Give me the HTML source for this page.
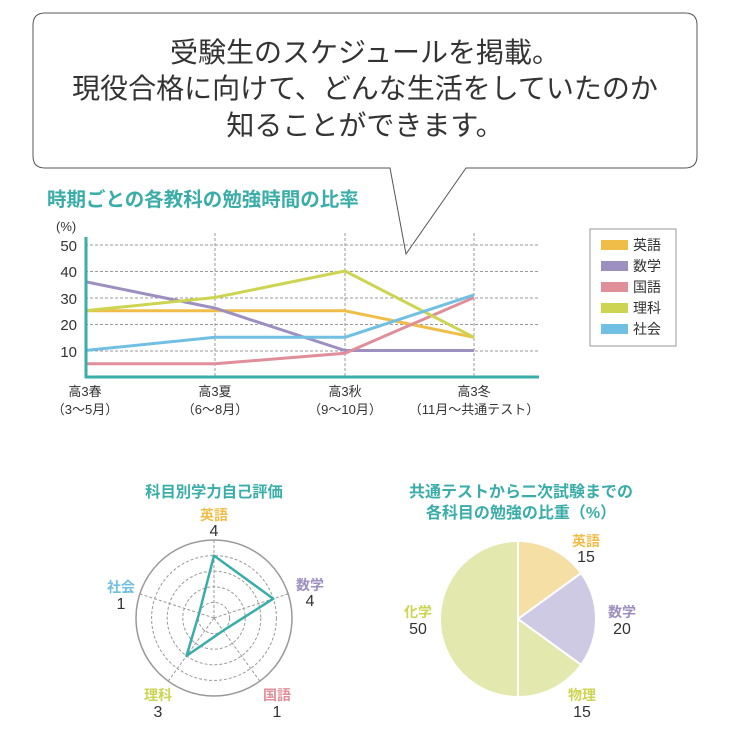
<!DOCTYPE html>
<html><head><meta charset="utf-8"><style>
body{margin:0;background:#fff;width:730px;height:727px;overflow:hidden}
svg text{font-family:"Liberation Sans","Noto Sans CJK JP",sans-serif}
</style></head><body>
<svg width="730" height="727" viewBox="0 0 730 727" xmlns="http://www.w3.org/2000/svg">
<path d="M45,13 H685 Q697,13 697,25 V156 Q697,168 685,168 H466 L406,254 L390,168 H45 Q33,168 33,156 V25 Q33,13 45,13 Z" fill="#fff" stroke="#555" stroke-width="1"/>
<g font-size="28" fill="#333" text-anchor="middle">
<text x="365" y="62">受験生のスケジュールを掲載。</text>
<text x="365" y="98">現役合格に向けて、どんな生活をしていたのか</text>
<text x="365" y="135">知ることができます。</text>
</g>
<text x="47" y="206" font-size="19.5" font-weight="bold" fill="#3aada8">時期ごとの各教科の勉強時間の比率</text>
<text x="56" y="231" font-size="13" fill="#333">(%)</text>
<g stroke="#999" stroke-dasharray="3,2" stroke-width="1">
<line x1="85" y1="245" x2="539" y2="245"/><line x1="85" y1="271.5" x2="539" y2="271.5"/><line x1="85" y1="298" x2="539" y2="298"/><line x1="85" y1="324.5" x2="539" y2="324.5"/><line x1="85" y1="351" x2="539" y2="351"/>
<line x1="215" y1="233" x2="215" y2="377"/><line x1="345" y1="233" x2="345" y2="377"/><line x1="474" y1="233" x2="474" y2="377"/>
</g>
<g font-size="15" fill="#333" text-anchor="end">
<text x="77" y="251">50</text><text x="77" y="277">40</text><text x="77" y="304">30</text><text x="77" y="330">20</text><text x="77" y="357">10</text>
</g>
<g fill="none" stroke-width="3" stroke-linejoin="round">
<polyline stroke="#f0bd48" points="85,310.8 215,310.8 345,310.8 474,337.3"/>
<polyline stroke="#9d8fc0" points="85,281.6 215,308.1 345,350.5 474,350.5"/>
<polyline stroke="#e08f9a" points="85,363.8 215,363.8 345,353.2 474,297.5"/>
<polyline stroke="#cdd452" points="85,310.8 215,297.5 345,271 474,337.3"/>
<polyline stroke="#71c0e3" points="85,350.5 215,337.3 345,337.3 474,294.9"/>
</g>
<line x1="86" y1="237" x2="86" y2="378" stroke="#3aada8" stroke-width="3"/>
<line x1="85" y1="377" x2="539" y2="377" stroke="#3aada8" stroke-width="3"/>
<g font-size="13" fill="#333" text-anchor="middle">
<text x="85" y="396">高3春</text><text x="85" y="414">（3〜5月）</text>
<text x="215" y="396">高3夏</text><text x="215" y="414">（6〜8月）</text>
<text x="345" y="396">高3秋</text><text x="345" y="414">（9〜10月）</text>
<text x="474" y="396">高3冬</text><text x="474" y="414">（11月〜共通テスト）</text>
</g>
<rect x="590" y="229" width="86" height="117" fill="#fff" stroke="#999"/>
<g font-size="14" fill="#333">
<rect x="601" y="240" width="27" height="10" fill="#f0bd48"/><text x="633" y="250">英語</text>
<rect x="601" y="261" width="27" height="10" fill="#9d8fc0"/><text x="633" y="271">数学</text>
<rect x="601" y="282" width="27" height="10" fill="#e08f9a"/><text x="633" y="292">国語</text>
<rect x="601" y="303" width="27" height="10" fill="#cdd452"/><text x="633" y="313">理科</text>
<rect x="601" y="324" width="27" height="10" fill="#71c0e3"/><text x="633" y="334">社会</text>
</g>
<text x="214" y="497" font-size="15.3" font-weight="bold" fill="#3aada8" text-anchor="middle">科目別学力自己評価</text>
<g fill="none" stroke="#999" stroke-dasharray="3,2" stroke-width="1">
<circle cx="214" cy="618" r="15.6"/><circle cx="214" cy="618" r="31.2"/><circle cx="214" cy="618" r="46.8"/><circle cx="214" cy="618" r="62.4"/>
<line x1="214" y1="618" x2="214" y2="540"/><line x1="214" y1="618" x2="288.2" y2="593.9"/><line x1="214" y1="618" x2="259.8" y2="681.1"/><line x1="214" y1="618" x2="168.2" y2="681.1"/><line x1="214" y1="618" x2="139.8" y2="593.9"/>
</g>
<circle cx="214" cy="618" r="78" fill="none" stroke="#999" stroke-width="1.5"/>
<polygon points="214,555.6 273.3,598.7 223.2,630.6 186.5,655.9 199.2,613.2" fill="none" stroke="#3aada8" stroke-width="2.5" stroke-linejoin="round"/>
<g font-size="14" text-anchor="middle">
<text x="214" y="520" fill="#f0bd48" font-weight="bold">英語</text><text x="214" y="536" fill="#333" font-size="16">4</text>
<text x="310" y="590" fill="#9d8fc0" font-weight="bold">数学</text><text x="310" y="606" fill="#333" font-size="16">4</text>
<text x="277" y="700" fill="#e08f9a" font-weight="bold">国語</text><text x="277" y="717" fill="#333" font-size="16">1</text>
<text x="158" y="700" fill="#cdd452" font-weight="bold">理科</text><text x="158" y="717" fill="#333" font-size="16">3</text>
<text x="121" y="592" fill="#71c0e3" font-weight="bold">社会</text><text x="121" y="609" fill="#333" font-size="16">1</text>
</g>
<g font-size="16" font-weight="bold" fill="#3aada8" text-anchor="middle">
<text x="521" y="497">共通テストから二次試験までの</text>
<text x="521" y="518">各科目の勉強の比重（%）</text>
</g>
<g stroke="#fff" stroke-width="2">
<path d="M518,619 L518,541 A78,78 0 0 1 581.1,573.2 Z" fill="#f5dfa5"/>
<path d="M518,619 L581.1,573.2 A78,78 0 0 1 581.1,664.8 Z" fill="#cfcae3"/>
<path d="M518,619 L581.1,664.8 A78,78 0 0 1 518,697 Z" fill="#e3e8ae"/>
<path d="M518,619 L518,697 A78,78 0 0 1 518,541 Z" fill="#e3e8ae"/>
</g>
<g font-size="14" text-anchor="middle">
<text x="586" y="546" fill="#f0bd48" font-weight="bold">英語</text><text x="586" y="562" fill="#333" font-size="16">15</text>
<text x="622" y="617" fill="#9d8fc0" font-weight="bold">数学</text><text x="622" y="634" fill="#333" font-size="16">20</text>
<text x="582" y="700" fill="#cdd452" font-weight="bold">物理</text><text x="582" y="717" fill="#333" font-size="16">15</text>
<text x="418" y="617" fill="#cdd452" font-weight="bold">化学</text><text x="418" y="634" fill="#333" font-size="16">50</text>
</g>
</svg>
</body></html>
